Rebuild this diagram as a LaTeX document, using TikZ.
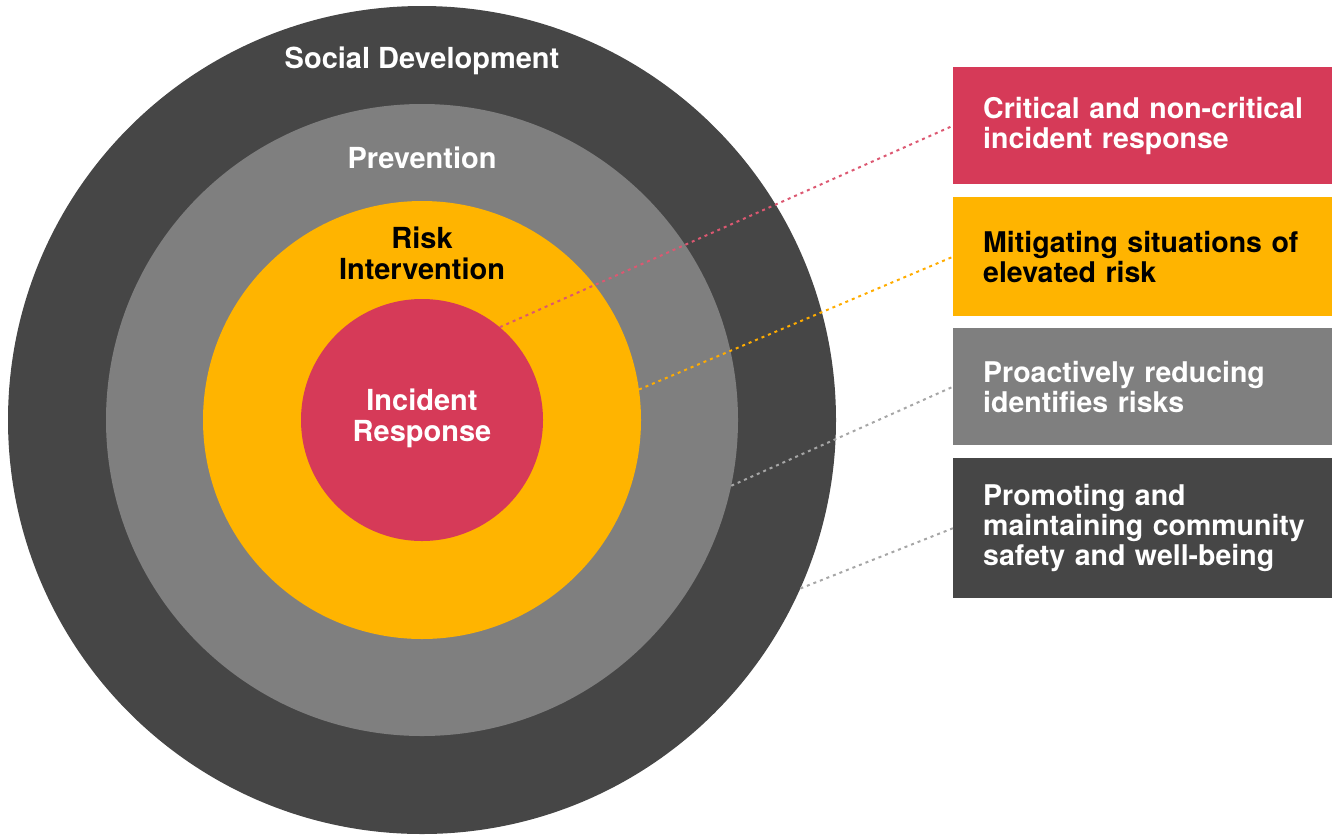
\documentclass[tikz,border=0pt]{standalone}
\usepackage{fontspec}
\setmainfont{TeX Gyre Heros}
\usetikzlibrary{positioning}

\definecolor{socialdark}{RGB}{70,70,70}
\definecolor{prevgray}{RGB}{127,127,127}
\definecolor{riskyellow}{RGB}{255,180,0}
\definecolor{incred}{RGB}{214,58,88}

\begin{document}
\begin{tikzpicture}[x=1pt, y=-1pt,
        ring/.style={circle, draw=none, inner sep=0pt},
        lbl/.style={font=\fontsize{29}{31}\selectfont\bfseries, align=center},
        textbox/.style={rectangle, draw=none, anchor=north west, minimum width=380pt,
            inner xsep=30pt, text width=324pt, align=left,
            font=\fontsize{28.5}{30}\selectfont\bfseries},
        dotline/.style={line width=2pt, dash pattern=on 3pt off 4pt}]
        \useasboundingbox (0,0) rectangle (1332,836);

        % Draw the four rings, outside in
        \node[ring, fill=socialdark, minimum size=828pt] (social) at (422,420) {};
        \node[ring, fill=prevgray, minimum size=632pt] (prevention) at (422,420) {};
        \node[ring, fill=riskyellow, minimum size=438pt] (risk) at (422,420) {};
        \node[ring, fill=incred, minimum size=242pt] (incident) at (422,420) {};

        % Ring labels
        \node[lbl, text=white] (sociallbl) at (422,61) {Social Development};
        \node[lbl, text=white] (prevlbl) at (422,158) {Prevention};
        \node[lbl, text=black] (risklbl) at (422,253) {Risk\\Intervention};
        \node[lbl, text=white] (inclbl) at (422,418) {Incident\\Response};

        % Description boxes on the right
        \node[textbox, fill=incred, text=white, minimum height=117pt] (critbox) at (953,67)
            {Critical and non-critical\\incident response};
        \node[textbox, fill=riskyellow, text=black, minimum height=119pt] (mitbox) at (953,197)
            {Mitigating situations of\\elevated risk};
        \node[textbox, fill=prevgray, text=white, minimum height=117pt] (proabox) at (953,328)
            {Proactively reducing\\identifies risks};
        \node[textbox, fill=socialdark, text=white, minimum height=140pt] (promobox) at (953,458)
            {Promoting and\\maintaining community\\safety and well-being};

        % Dotted leaders from each ring to its box
        \draw[dotline, draw=incred!85] (incident.50) -- (critbox.west);
        \draw[dotline, draw=riskyellow!85!orange] (risk.8) -- (mitbox.west);
        \draw[dotline, draw=gray!70] (prevention.-12) -- (proabox.west);
        \draw[dotline, draw=gray!70] (social.-24) -- (promobox.west);
    \end{tikzpicture}
\end{document}
